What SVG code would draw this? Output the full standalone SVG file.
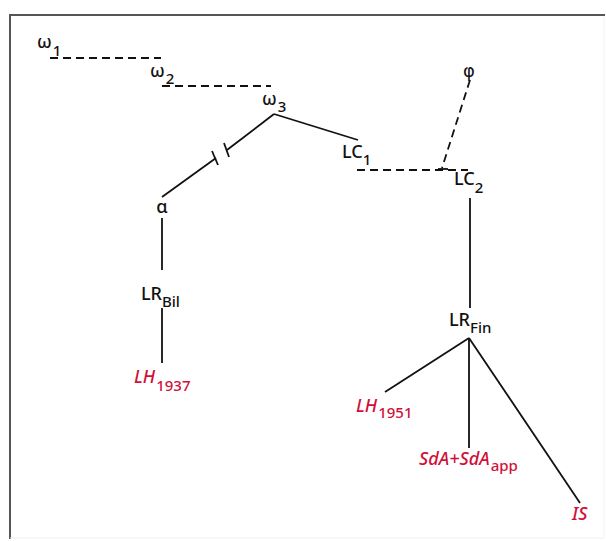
<svg xmlns="http://www.w3.org/2000/svg" width="606" height="541" viewBox="0 0 606 541">
<style>
.t{font-family:"Noto Sans","DejaVu Sans",sans-serif;font-size:18px;font-weight:500;fill:#111}
.s{font-size:15px}
.r{fill:#d0103a}
.i{font-style:italic}
.ln{stroke:#111;stroke-width:1.8;fill:none}
.ds{stroke:#111;stroke-width:1.8;fill:none;stroke-dasharray:8 5}
</style>
<rect x="0" y="0" width="606" height="541" fill="#fff"/>
<line x1="10" y1="15" x2="605" y2="15" stroke="#555" stroke-width="2"/>
<line x1="10" y1="14" x2="10" y2="539" stroke="#555" stroke-width="2"/>
<line x1="10" y1="538" x2="604" y2="538" stroke="#eeeeee" stroke-width="1"/>
<line x1="604" y1="16" x2="604" y2="538" stroke="#f2f2f2" stroke-width="1"/>
<g id="connectors">
<line class="ds" x1="50" y1="58" x2="161" y2="58"/>
<line class="ds" x1="162" y1="86" x2="271" y2="86"/>
<line class="ln" x1="274" y1="114" x2="227" y2="150"/>
<line class="ln" x1="216" y1="158" x2="162" y2="197"/>
<line class="ln" x1="212" y1="151" x2="218" y2="165"/>
<line class="ln" x1="224" y1="143" x2="229" y2="157"/>
<line class="ln" x1="274" y1="114" x2="358" y2="140"/>
<line class="ds" x1="357" y1="170" x2="468" y2="170"/>
<line class="ds" x1="470" y1="80" x2="442" y2="168"/>
<line class="ln" x1="438" y1="169" x2="448" y2="169"/>
<line class="ln" x1="162" y1="218" x2="162" y2="270"/>
<line class="ln" x1="162" y1="308" x2="162" y2="363"/>
<line class="ln" x1="470" y1="198" x2="470" y2="308"/>
<line class="ln" x1="469" y1="338" x2="385" y2="392"/>
<line class="ln" x1="469" y1="338" x2="469" y2="448"/>
<line class="ln" x1="469" y1="338" x2="580" y2="503"/>
</g>
<g id="omega1"><text class="t" x="37" y="48">ω<tspan class="s" dx="1" dy="8">1</tspan></text></g>
<g id="omega2"><text class="t" x="150" y="77">ω<tspan class="s" dx="1" dy="7">2</tspan></text></g>
<g id="omega3"><text class="t" x="262" y="105">ω<tspan class="s" dx="1" dy="7">3</tspan></text></g>
<g id="phi"><text class="t" x="469" y="77" text-anchor="middle" style="font-family:'DejaVu Sans',sans-serif;font-size:18px">φ</text></g>
<g id="LC1"><text class="t" x="342" y="158">LC<tspan class="s" dx="0" dy="7">1</tspan></text></g>
<g id="LC2"><text class="t" x="454" y="185">LC<tspan class="s" dx="0" dy="8">2</tspan></text></g>
<g id="alpha"><text class="t" x="162" y="213" text-anchor="middle">α</text></g>
<g id="LRBil"><text class="t" x="141" y="300">LR<tspan class="s" dx="0" dy="7">Bil</tspan></text></g>
<g id="LH1937"><text class="t r" x="134" y="383"><tspan class="i">LH</tspan><tspan class="s" dx="1" dy="8">1937</tspan></text></g>
<g id="LRFin"><text class="t" x="449" y="326">LR<tspan class="s" dx="0" dy="7">Fin</tspan></text></g>
<g id="LH1951"><text class="t r" x="356" y="412"><tspan class="i">LH</tspan><tspan class="s" dx="1" dy="6">1951</tspan></text></g>
<g id="SdA"><text class="t r" x="419" y="465"><tspan class="i">SdA+SdA</tspan><tspan class="s" dx="1" dy="6">app</tspan></text></g>
<g id="IS"><text class="t r i" x="572" y="520">IS</text></g>
</svg>
